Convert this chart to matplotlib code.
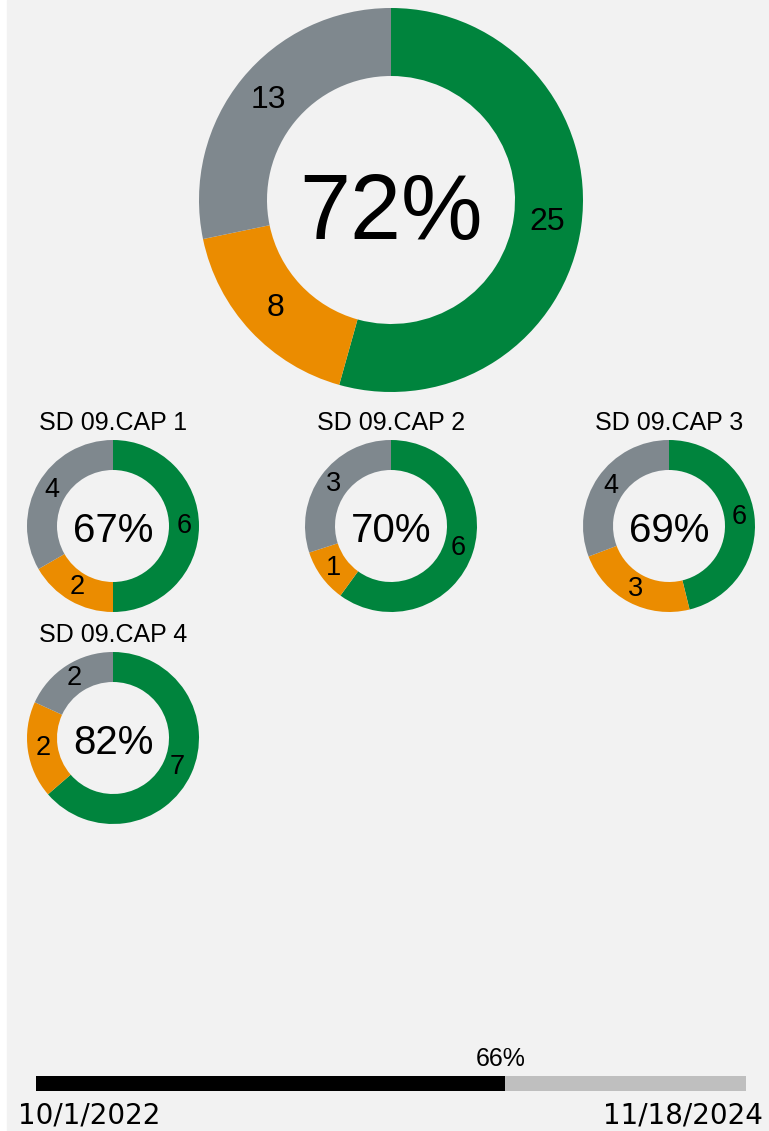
import matplotlib.pyplot as plt
from matplotlib.patches import Rectangle

# counts per status: on track (green), at risk (orange), not started (gray)
overall = [25, 8, 13]
cap_names = ['SD 09.CAP 1', 'SD 09.CAP 2', 'SD 09.CAP 3', 'SD 09.CAP 4']
cap_green = [6, 6, 6, 7]
cap_orange = [2, 1, 3, 2]
cap_gray = [4, 3, 4, 2]

# timeline
start_label = '10/1/2022'
end_label = '11/18/2024'
elapsed = 0.66

colors = ['#00843d', '#eb8c00', '#7f888e']
bg = '#f2f2f2'
W, H = 769, 1131

plt.rcParams['font.family'] = ['Liberation Sans', 'DejaVu Sans']


def donut(ax, vals, cx, cy, r_out, r_in, label_size, center_size, center_dy=0):
    total = sum(vals)
    mid = (r_out + r_in) / 2 / r_out
    ax.pie(vals, colors=colors, startangle=90, counterclock=False,
           center=(cx, cy), radius=r_out,
           wedgeprops=dict(width=r_out - r_in, linewidth=0),
           autopct=lambda p: f'{round(p * total / 100)}', pctdistance=mid,
           textprops=dict(fontsize=label_size, color='black'))
    pct = round(100 * (vals[0] + vals[1]) / total)
    ax.text(cx, cy + center_dy, f'{pct}%', ha='center', va='center_baseline',
            fontsize=center_size)


fig = plt.figure(figsize=(W / 100, H / 100), dpi=100, facecolor='white')
fig.add_artist(Rectangle((7 / W, 0), 1 - 7 / W, 1, transform=fig.transFigure,
                         color=bg, zorder=-10))

ax = fig.add_axes([0, 0, 1, 1])
ax.patch.set_visible(False)

# big donut
donut(ax, overall, 391, H - 200, 192, 124, 23, 66, center_dy=-6)

# small donuts
centers = [(113, 526), (391, 526), (669, 526), (113, 738)]
for name, g, o, gr, (cx, cy) in zip(cap_names, cap_green, cap_orange, cap_gray, centers):
    donut(ax, [g, o, gr], cx, H - cy, 86, 56, 19.5, 29, center_dy=-1)
    ax.text(cx, H - cy + 106, name, ha='center', va='center_baseline', fontsize=18)

ax.set_xlim(0, W)
ax.set_ylim(0, H)
ax.set_aspect('equal')
ax.axis('off')

# timeline bar
bx0, bx1, by0, by1 = 36, 746, 1076, 1091
axb = fig.add_axes([bx0 / W, 1 - by1 / H, (bx1 - bx0) / W, (by1 - by0) / H])
axb.barh(0, 1, height=1, color='#bfbfbf', linewidth=0)
axb.barh(0, elapsed, height=1, color='black', linewidth=0)
axb.set_xlim(0, 1)
axb.set_ylim(-0.5, 0.5)
axb.axis('off')
axb.text(elapsed - 0.005, 0.85, f'{elapsed:.0%}', ha='center', va='bottom', fontsize=18)

fig.text(18 / W, 1 - 1123 / H, start_label, ha='left', va='baseline',
         fontsize=20, family=['DejaVu Sans'])
fig.text(763 / W, 1 - 1123 / H, end_label, ha='right', va='baseline',
         fontsize=20, family=['DejaVu Sans'])

fig.savefig('out.png', dpi=100, facecolor=fig.get_facecolor())
